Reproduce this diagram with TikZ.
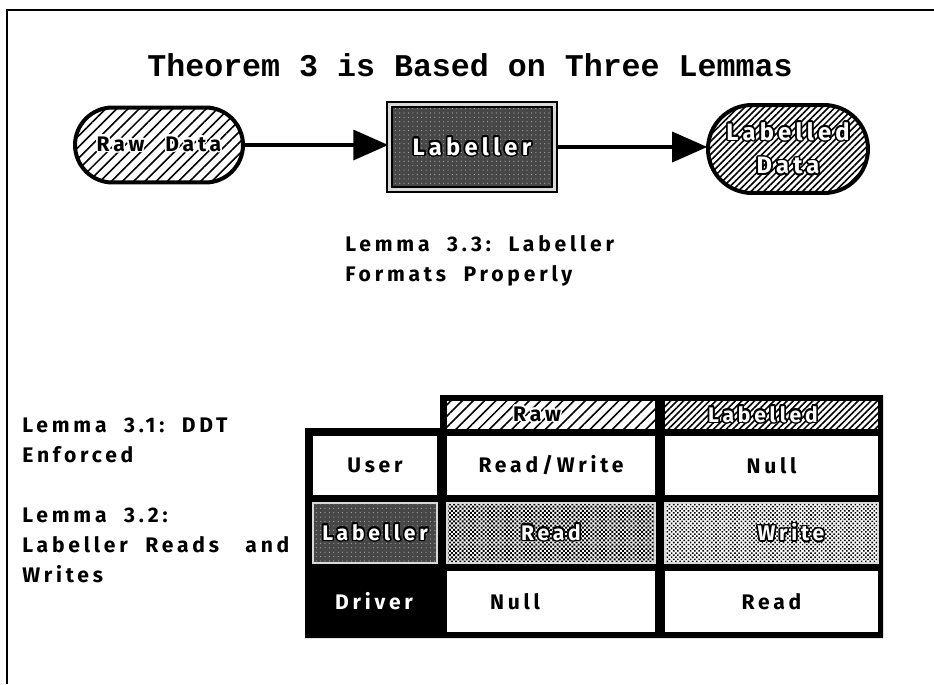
\documentclass[tikz,border=0pt]{standalone}
\usepackage{fontspec}
\usepackage{contour}
\usetikzlibrary{positioning, arrows.meta, patterns, patterns.meta}
\newfontfamily\titrefont{Liberation Mono}
\newfontfamily\lemmefont{Fira Sans}[LetterSpace=18]
\contourlength{0.9pt}
% texte blanc cerne de noir, texte noir cerne de blanc
\newcommand{\blanc}[1]{\contour{black}{\textcolor{white}{#1}}}
\newcommand{\noir}[1]{\contour{white}{#1}}

\begin{document}
\begin{tikzpicture}[
  x=0.02cm, y=-0.02cm,
  font=\lemmefont\bfseries\fontsize{12}{17}\selectfont,
  bord/.style={line width=0.08cm},
  donnee/.style={draw, bord, rounded corners=0.75cm, minimum width=3.36cm,
                 minimum height=1.5cm, align=center, inner sep=0pt},
  hach/.style={preaction={fill=white},
               pattern={Lines[angle=45, distance=#1, line width=0.9pt]}},
  bruit/.style={preaction={fill=black!72},
                pattern={Dots[distance=2.5pt, radius=0.35pt]}, pattern color=black!35},
  damier/.style={preaction={fill=white},
                 pattern={Dots[angle=45, distance=1.7pt, radius=#1]}, pattern color=black},
  cellule/.style={inner sep=0pt, minimum height=1.18cm},
  grise/.style={draw=black!15, line width=1.2pt},
  fl/.style={-{Triangle[length=0.7cm, width=0.6cm]}, line width=0.07cm},
  lemme/.style={align=left, anchor=north west, inner sep=0pt},
]
\useasboundingbox (0,0) rectangle (934,684);
% cadre
\draw[line width=0.04cm] (7,684) |- (934,10);
% titre
\node[font=\titrefont\bfseries\fontsize{18}{20}\selectfont] (titre) at (470,65)
  {Theorem 3 is Based on Three Lemmas};
% le flux du haut
\node[donnee, hach=4.5pt] (brut) at (159,145) {\noir{Raw\quad Data}};
\node[draw, bruit, line width=0.05cm, double=black!15, double distance=0.05cm,
      minimum width=3.3cm, minimum height=1.7cm, inner sep=0pt,
      font=\lemmefont\bfseries\fontsize{13.5}{17}\selectfont] (etiq) at (472,147)
  {\blanc{Labeller}};
\node[donnee, hach=2.6pt, minimum width=3.2cm, minimum height=1.76cm,
      rounded corners=0.88cm, font=\lemmefont\bfseries\fontsize{13.5}{19}\selectfont] (etiqd) at (788,149)
  {\blanc{Labelled}\\\blanc{Data}};
\draw[fl] (brut.east) -- (brut.east -| etiq.west);
\draw[fl] (etiq.east) -- (etiq.east -| etiqd.west);
% lemmes
\node[lemme] (l33) at (345,235) {Lemma\ \ 3.3:\ \ Labeller\\Formats\ \ Properly};
\node[lemme] (l31) at (22,418) {Lemma\ \ 3.1:\ \ DDT\\Enforced};
\node[lemme] (l32) at (22,508) {Lemma\ \ 3.2:\\Labeller\ \ Reads\ \ \ and\\Writes};
% le tableau
\fill (440,395) -- (883,395) |- (305,638) |- (440,428) -- cycle;
\node[cellule, hach=4.5pt, minimum width=4.16cm, minimum height=0.56cm] (hbrut) at (551,415) {};
\node (tbrut) at (537,415) {\noir{Raw}};
\node[cellule, hach=2.6pt, minimum width=4.26cm, minimum height=0.56cm] (hetiq) at (771.5,415) {};
\node (tetiq) at (763,415) {\blanc{Labelled}};
% ligne User
\node[cellule, fill=white, minimum width=2.48cm] (user) at (375,465.5) {User};
\node[cellule, fill=white, minimum width=4.16cm] (ub) at (551,465.5) {Read/Write};
\node[cellule, fill=white, minimum width=4.26cm] (ue) at (771.5,465.5) {Null};
% ligne Labeller
\node[cellule, bruit, grise, minimum width=2.48cm, minimum height=1.2cm] (lab) at (375,533)
  {\blanc{Labeller}};
\node[cellule, damier=0.8pt, grise, minimum width=4.16cm, minimum height=1.2cm] (lb) at (551,533)
  {\blanc{Read}};
\node[cellule, damier=0.64pt, grise, minimum width=4.26cm, minimum height=1.2cm] (le) at (771.5,533) {};
\node (tle) at (791,533) {\blanc{Write}};
% ligne Driver
\node[text=white] (drv) at (374,601.5) {Driver};
\node[cellule, fill=white, minimum width=4.16cm, minimum height=1.22cm] (db) at (551,601.5) {};
\node (tdb) at (515,601.5) {Null};
\node[cellule, fill=white, minimum width=4.26cm, minimum height=1.22cm] (de) at (771.5,601.5) {Read};
\end{tikzpicture}
\end{document}
